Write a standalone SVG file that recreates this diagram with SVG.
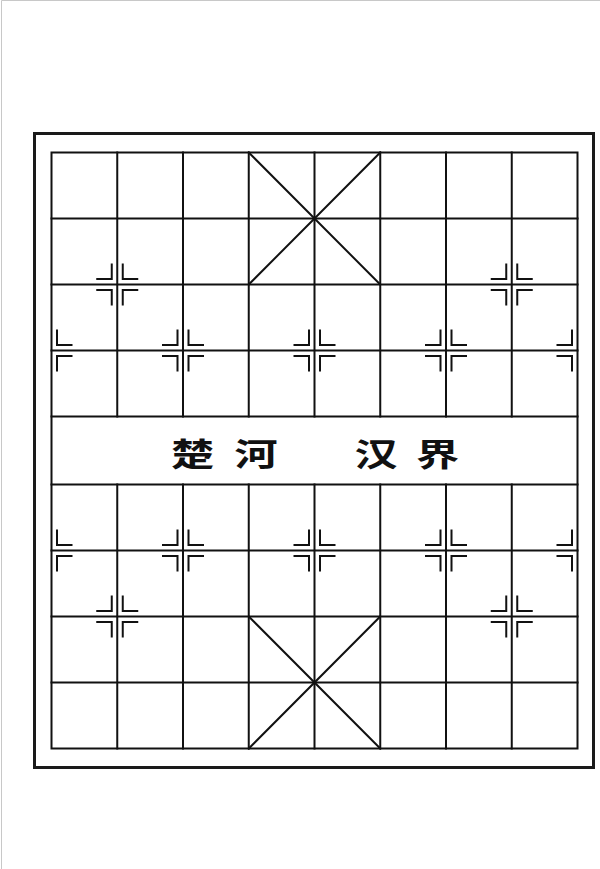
<svg xmlns="http://www.w3.org/2000/svg" width="600" height="869" viewBox="0 0 600 869">
<defs>
<style>
.page{stroke:#c8c8c8;stroke-width:1;fill:none}
.frame{stroke:#1a1a1a;stroke-width:3;fill:none}
.grid{stroke:#111;stroke-width:2;fill:none;stroke-linecap:square}
.mark{stroke:#111;stroke-width:2;fill:none}
.txt{font-family:"Noto Sans CJK SC","Noto Sans CJK JP",sans-serif;font-size:32px;font-weight:700;fill:#111}
</style>
<g id="m4">
<path class="mark" d="M-5.5,-21V-5.5H-21M5.5,-21V-5.5H21M-5.5,21V5.5H-21M5.5,21V5.5H21"/>
</g>
<g id="mR">
<path class="mark" d="M5.5,-21V-5.5H21M5.5,21V5.5H21"/>
</g>
<g id="mL">
<path class="mark" d="M-5.5,-21V-5.5H-21M-5.5,21V5.5H-21"/>
</g>
</defs>
<rect width="600" height="869" fill="#fff"/>
<path class="page" d="M1.5,869V0.5H600"/>
<rect id="frame" class="frame" x="34.5" y="133.5" width="559" height="634"/>
<g id="board">
<rect class="grid" x="51.5" y="152.5" width="526" height="596"/>
<path class="grid" d="M51.5,218.5H577.5M51.5,284.5H577.5M51.5,350.5H577.5M51.5,416.5H577.5M51.5,484.5H577.5M51.5,550.5H577.5M51.5,616.5H577.5M51.5,682.5H577.5"/>
<path class="grid" d="M117.25,152.5V416.5M183,152.5V416.5M248.75,152.5V416.5M314.5,152.5V416.5M380.25,152.5V416.5M446,152.5V416.5M511.75,152.5V416.5"/>
<path class="grid" d="M117.25,484.5V748.5M183,484.5V748.5M248.75,484.5V748.5M314.5,484.5V748.5M380.25,484.5V748.5M446,484.5V748.5M511.75,484.5V748.5"/>
<path class="grid" d="M248.75,152.5L380.25,284.5M380.25,152.5L248.75,284.5M248.75,616.5L380.25,748.5M380.25,616.5L248.75,748.5"/>
</g>
<g id="markers">
<use href="#m4" x="117.25" y="284.5"/>
<use href="#m4" x="511.75" y="284.5"/>
<use href="#m4" x="117.25" y="616.5"/>
<use href="#m4" x="511.75" y="616.5"/>
<use href="#mR" x="51.5" y="350.5"/>
<use href="#m4" x="183" y="350.5"/>
<use href="#m4" x="314.5" y="350.5"/>
<use href="#m4" x="446" y="350.5"/>
<use href="#mL" x="577.5" y="350.5"/>
<use href="#mR" x="51.5" y="550.5"/>
<use href="#m4" x="183" y="550.5"/>
<use href="#m4" x="314.5" y="550.5"/>
<use href="#m4" x="446" y="550.5"/>
<use href="#mL" x="577.5" y="550.5"/>
</g>
<g id="river">
<text class="txt" text-anchor="middle" dominant-baseline="central" transform="translate(192.5,452.5) scale(1.35,1)">楚</text>
<text class="txt" text-anchor="middle" dominant-baseline="central" transform="translate(256,452.5) scale(1.35,1)">河</text>
<text class="txt" text-anchor="middle" dominant-baseline="central" transform="translate(376,452.5) scale(1.35,1)">汉</text>
<text class="txt" text-anchor="middle" dominant-baseline="central" transform="translate(437.5,452.5) scale(1.35,1)">界</text>
</g>
</svg>
